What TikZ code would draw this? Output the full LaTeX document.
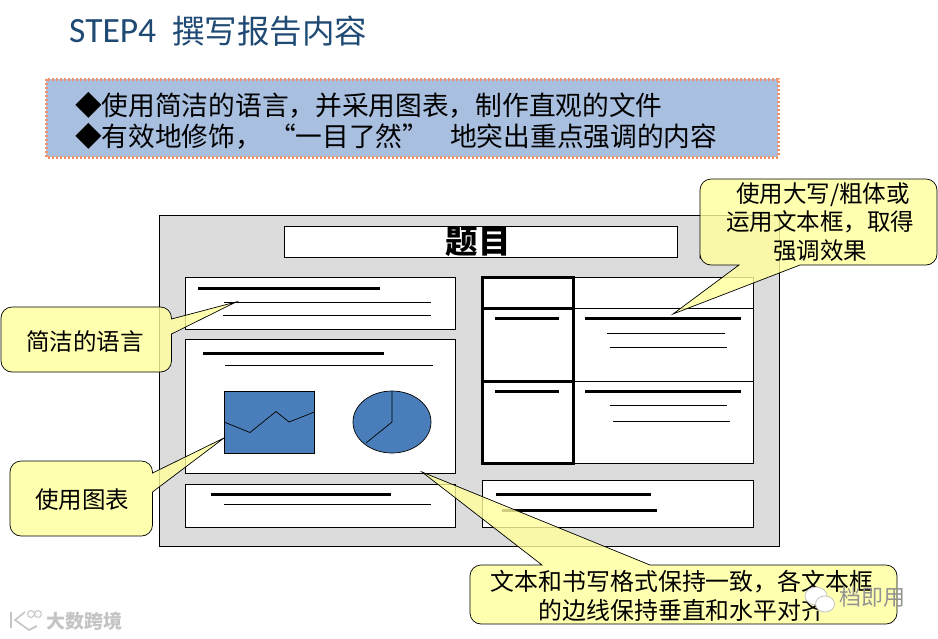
\documentclass[tikz,border=0pt]{standalone}
\usepackage{fontspec}
\newfontfamily\cjk{Noto Sans CJK SC}
\newfontfamily\stepfont{Carlito}
\definecolor{titleblue}{HTML}{1F4A74}
\definecolor{bannerblue}{HTML}{A8BFDF}
\definecolor{bannerdot}{HTML}{F4936B}
\definecolor{noteyellow}{HTML}{FFFF9C}
\definecolor{chartblue}{HTML}{4A7EBB}
\definecolor{panelgray}{HTML}{DCDCDC}
\definecolor{markgray}{HTML}{C4C4C4}
\tikzset{
	boxw/.style={draw=black,fill=white,line width=.8pt},
	thick line/.style={line width=3pt},
	thin line/.style={line width=.8pt},
	note/.style={draw=black,line width=.7pt,fill=noteyellow,fill opacity=.8,rounded corners=11pt},
	notetext/.style={font=\cjk\fontsize{23.5}{28.5}\selectfont,align=center,inner sep=0pt},
	bannertext/.style={font=\cjk\fontsize{26.7}{31}\selectfont,anchor=west,inner sep=0pt},
	marktext/.style={font=\cjk\bfseries,text=markgray,inner sep=0pt}
}
\begin{document}
\begin{tikzpicture}[x=1pt,y=-1pt]
	\useasboundingbox (0,0) rectangle (938,638);
	% tieu de
	\node[anchor=west,inner sep=0pt,text=titleblue,font=\stepfont\fontsize{35.5}{36}\selectfont] (steptitle) at (69,31) {STEP4};
	\node[anchor=west,inner sep=0pt,text=titleblue,font=\cjk\fontsize{32.5}{36}\selectfont] (cntitle) at (172,31) {撰写报告内容};
	% banner
	\draw[fill=bannerblue,draw=none] (46,79) rectangle (778,157);
	\draw[draw=bannerdot,line width=3pt,dash pattern=on 2pt off 2pt] (46,79) rectangle (778,157);
	\node[bannertext] (lineone) at (75,105) {◆使用简洁的语言，并采用图表，制作直观的文件};
	\node[bannertext] (linetwo) at (75,136) {◆有效地修饰，\hspace{7pt}“一目了然”\hspace{15pt} 地突出重点强调的内容};
	% trang mau
	\draw[fill=panelgray,line width=.8pt] (159,215) rectangle (779,546);
	\draw[boxw] (284,226) rectangle (677,257);
	\node[font=\cjk\bfseries\fontsize{32.5}{36}\selectfont,inner sep=0pt] (heading) at (478,242) {题目};
	% cot trai
	\draw[boxw] (185,277) rectangle (455.5,329);
	\draw[thick line] (198,288.5) -- (380,288.5);
	\draw[thin line] (224,302.5) -- (431,302.5);
	\draw[thin line] (223,315) -- (431,315);
	\draw[boxw] (185,339) rectangle (455.5,473);
	\draw[thick line] (203,353.5) -- (384,353.5);
	\draw[thin line] (225,365.5) -- (433,365.5);
	\draw[boxw] (185,484) rectangle (455.5,527);
	\draw[thick line] (211,494.5) -- (391,494.5);
	\draw[thin line] (224,504.5) -- (431,504.5);
	% bieu do
	\draw[fill=chartblue,line width=.7pt] (224,391) rectangle (314.5,453);
	\draw[line width=.7pt] (224,422) -- (250,432.5) -- (276,411.5) -- (289,422) -- (314.5,412);
	\draw[fill=chartblue,line width=.7pt] (392,422) ellipse (39 and 31);
	\draw[line width=.7pt] (392,391) -- (392,422) -- (366,443);
	% bang ben phai
	\draw[boxw] (482,277) rectangle (753,463);
	\draw[line width=.8pt] (573,308) -- (753,308);
	\draw[line width=.8pt] (573,381) -- (753,381);
	\draw[line width=3pt] (482,277) rectangle (573,463);
	\draw[line width=3pt] (482,308) -- (573,308);
	\draw[line width=3pt] (482,381) -- (573,381);
	\draw[thick line] (495,318) -- (559,318);
	\draw[thick line] (585,318) -- (741,318);
	\draw[thin line] (607,333.5) -- (725,333.5);
	\draw[thin line] (610,347.5) -- (727,347.5);
	\draw[thick line] (495,391) -- (559,391);
	\draw[thick line] (585,391) -- (741,391);
	\draw[thin line] (610,405.5) -- (727,405.5);
	\draw[thin line] (613,421.5) -- (730,421.5);
	\draw[boxw] (482,480) rectangle (753,527);
	\draw[thick line] (496,494.5) -- (651,494.5);
	\draw[thick line] (502,510) -- (657,510);
	% chu thich
	\draw[note] (700,265) -- (700,179) -- (937,179) -- (937,265) [sharp corners] -- (800,265) -- (673,314) -- (739,265) [rounded corners=11pt] -- (700,265) -- cycle;
	\draw[note] (1,372) -- (1,307) -- (171.5,307) [sharp corners] -- (171.5,319) -- (236,302) -- (171.5,334) [rounded corners=11pt] -- (171.5,372) -- cycle;
	\draw[note] (10,536) -- (10,461) -- (152.5,461) [sharp corners] -- (152.5,473) -- (224,438) -- (152.5,492) [rounded corners=11pt] -- (152.5,536) -- cycle;
	\draw[note] (470,624) -- (470,565) [sharp corners] -- (542,565) -- (422,472) -- (650,565) [rounded corners=11pt] -- (897,565) -- (897,624) -- cycle;
	\node[notetext] (capsnote) at (820,222) {\hspace{6pt}使用大写/粗体或\\运用文本框，取得\\强调效果};
	\node[notetext] (plainnote) at (85,342) {简洁的语言};
	\node[notetext] (chartnote) at (82,500) {使用图表};
	\node[notetext,font=\cjk\fontsize{23.9}{28.5}\selectfont] (alignnote) at (682,596) {文本和书写格式保持一致，各文本框\\的边线保持垂直和水平对齐};
	% hinh mo
	\draw[draw=markgray,line width=1.6pt] (11,612) -- (11,628);
	\draw[draw=markgray,line width=1.6pt] (25,612) -- (15,620) -- (29,630) -- (37,626);
	\draw[draw=markgray,line width=1pt] (31,614) circle (3.5);
	\draw[draw=markgray,line width=1pt] (38,614) circle (3.5);
	\node[marktext,font=\cjk\bfseries\fontsize{19}{20}\selectfont] (markleft) at (84,621) {大数跨境};
	\draw[draw=markgray,fill=white,line width=.8pt] (816,596) ellipse (11 and 9);
	\draw[draw=markgray,fill=white,line width=.8pt] (825,604) ellipse (9.5 and 8);
	\node[marktext,font=\cjk\fontsize{22}{24}\selectfont,text=gray!85] (markright) at (872,597) {档即用};
\end{tikzpicture}
\end{document}
